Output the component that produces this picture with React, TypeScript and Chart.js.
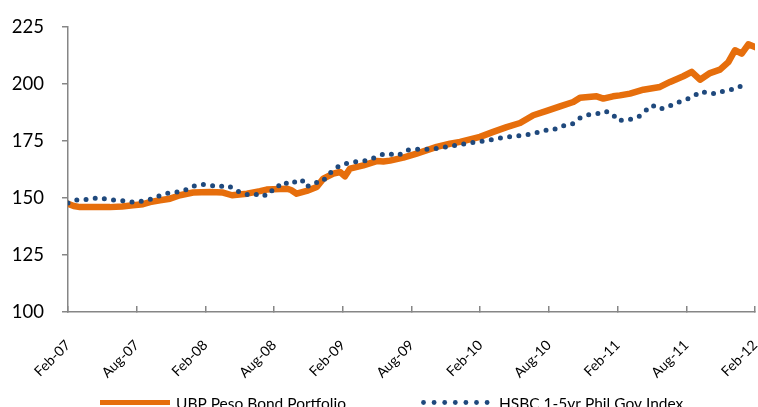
import { useEffect, useRef } from 'react';
import { Chart, registerables } from 'chart.js';

Chart.register(...registerables);

const tickLabels = ['Feb-07', 'Aug-07', 'Feb-08', 'Aug-08', 'Feb-09', 'Aug-09', 'Feb-10', 'Aug-10', 'Feb-11', 'Aug-11', 'Feb-12'];
const seriesNames = ['UBP Peso Bond Portfolio', 'HSBC 1-5yr Phil Gov Index'];

// months since Feb-07
const ubpMonths = [0, 0.5, 1.05, 2.36, 3.67, 4.72, 5.68, 6.55, 7.16, 8.03, 8.91, 9.78, 10.92, 12.4, 13.54, 14.32, 15.63, 16.77, 17.35, 19.1, 19.48, 19.97, 20.85, 21.72, 22.3, 23.17, 23.76, 24.19, 24.63, 25.79, 26.96, 27.54, 28.12, 29.28, 30.45, 32.2, 33.36, 34.24, 35.98, 37.14, 38.31, 39.48, 40.64, 41.81, 42.97, 44.13, 44.72, 46.17, 46.75, 47.6, 48.2, 49.08, 50.25, 51.7, 52.58, 53.74, 54.47, 55.2, 56.07, 56.94, 57.67, 58.25, 58.84, 59.42, 60];
const ubpValues = [147.5, 146.5, 146, 146, 146, 146.3, 146.8, 147.3, 148.2, 149, 149.7, 151.2, 152.4, 152.6, 152.4, 151.2, 151.9, 153, 153.7, 154.1, 153.5, 151.9, 153.1, 154.8, 158.5, 160.7, 161.4, 159.5, 162.9, 164.3, 166.2, 166, 166.4, 167.7, 169.5, 172.4, 173.8, 174.6, 176.8, 179, 181.1, 182.9, 186.3, 188.2, 190.2, 192.1, 194, 194.6, 193.6, 194.6, 195, 195.8, 197.5, 198.7, 200.9, 203.4, 205.3, 201.9, 204.8, 206.3, 209.6, 214.8, 213.3, 217.4, 216.2];

const hsbcMonths = [0, 0.9, 1.77, 2.65, 3.52, 4.25, 5.04, 5.7, 6.58, 7.45, 8.24, 9.06, 10.02, 10.86, 11.68, 12.46, 13.13, 13.86, 14.5, 15.08, 15.66, 16.24, 16.77, 17.35, 17.79, 18.28, 18.72, 19.24, 19.68, 20.41, 20.79, 21.51, 22.16, 22.65, 23.23, 23.84, 24.54, 25.41, 26.23, 26.9, 27.69, 28.32, 28.85, 29.52, 30.37, 31.03, 31.76, 32.55, 33.42, 34.38, 35.26, 36.13, 37.09, 38.02, 38.95, 39.77, 40.64, 41.51, 42.3, 43.14, 43.99, 44.72, 45.5, 46.23, 46.9, 47.62, 47.9, 48.45, 49.14, 49.87, 50.42, 51.03, 51.56, 52.29, 53.07, 53.86, 54.61, 55.34, 56.01, 56.71, 57.23, 58.02, 58.6, 59.42];
const hsbcValues = [147.8, 149.3, 149.3, 150.2, 149.3, 149, 148.7, 148.2, 148.7, 149.7, 151.6, 152.4, 152.9, 155.1, 156, 155.6, 154.8, 155.6, 154.1, 152.2, 151.5, 151.2, 152.2, 150.9, 153.1, 155.6, 154.8, 157.3, 156.8, 158.1, 154.8, 156.8, 156.8, 159.7, 162.6, 164.6, 165.4, 166.1, 166.5, 168, 169.5, 169.2, 168.7, 170.9, 171.4, 171.4, 171.4, 172.1, 172.7, 173.5, 174.3, 174.9, 175.7, 176.5, 177.2, 177.5, 178.2, 179.7, 179.7, 181.6, 182.3, 185.1, 186.6, 187, 188.1, 186.7, 184.1, 184.1, 184.5, 185.8, 188.2, 190.7, 189, 189.6, 191.7, 192.8, 194.6, 196.8, 195.8, 195.8, 196.9, 197.7, 199, 198.4];

const ORANGE = '#E66E0C';
const BLUE = '#1F497D';
const AXIS = '#868686';
const FONT = 'Lato';

const legendPlugin = {
  id: 'bottomLegend',
  afterDraw(chart: any) {
    const ctx = chart.ctx as CanvasRenderingContext2D;
    ctx.save();
    const ly = 402.5;
    ctx.strokeStyle = ORANGE;
    ctx.lineWidth = 5;
    ctx.lineCap = 'butt';
    ctx.beginPath();
    ctx.moveTo(100, ly);
    ctx.lineTo(170, ly);
    ctx.stroke();
    ctx.fillStyle = '#000';
    ctx.font = `15.5px ${FONT}`;
    ctx.textBaseline = 'alphabetic';
    ctx.textAlign = 'left';
    ctx.fillText(seriesNames[0], 176, 408.5);
    ctx.fillStyle = BLUE;
    for (let i = 0; i < 7; i++) {
      ctx.beginPath();
      ctx.arc(423.5 + i * 10.6, ly, 2.4, 0, Math.PI * 2);
      ctx.fill();
    }
    ctx.fillStyle = '#000';
    ctx.fillText(seriesNames[1], 499, 408.5);
    ctx.restore();
  },
};

export default function App() {
  const ref = useRef<HTMLCanvasElement | null>(null);
  useEffect(() => {
    if (!ref.current) return;
    const chart = new Chart(ref.current, {
      type: 'line',
      data: {
        datasets: [
          {
            label: seriesNames[0],
            data: ubpMonths.map((m, i) => ({ x: m, y: ubpValues[i] })),
            borderColor: ORANGE,
            backgroundColor: ORANGE,
            borderWidth: 6.5,
            pointRadius: 0,
            tension: 0,
            borderJoinStyle: 'round',
            borderCapStyle: 'round',
            order: 2,
          },
          {
            label: seriesNames[1],
            data: hsbcMonths.map((m, i) => ({ x: m, y: hsbcValues[i] })),
            borderColor: BLUE,
            backgroundColor: BLUE,
            borderWidth: 5,
            borderDash: [0, 9.3],
            borderCapStyle: 'round',
            pointRadius: 0,
            tension: 0,
            order: 1,
          },
        ],
      },
      options: {
        animation: false,
        responsive: false,
        layout: { padding: { top: 27, right: 3, left: 0, bottom: 0 } },
        plugins: { legend: { display: false }, tooltip: { enabled: false } },
        scales: {
          x: {
            type: 'linear',
            min: 0,
            max: 60,
            afterFit: (s: any) => { s.height = 95; s.paddingLeft = 0; s.paddingRight = 0; },
            ticks: {
              stepSize: 6,
              autoSkip: false,
              maxRotation: 45,
              minRotation: 45,
              color: '#000',
              padding: 31,
              font: { family: FONT, size: 14 },
              callback: (v: any) => tickLabels[Math.round(Number(v) / 6)] ?? '',
            },
            grid: { display: true, drawOnChartArea: false, drawTicks: true, tickLength: -6, color: AXIS, lineWidth: 1.5 },
            border: { display: true, color: AXIS, width: 1.5 },
          },
          y: {
            min: 100,
            max: 225,
            afterFit: (s: any) => { s.width = 68; s.paddingTop = 0; s.paddingBottom = 0; },
            ticks: {
              stepSize: 25,
              color: '#000',
              padding: 18,
              font: { family: FONT, size: 18.5 },
            },
            grid: { display: true, drawOnChartArea: false, drawTicks: true, tickLength: 6, color: AXIS, lineWidth: 1.5 },
            border: { display: true, color: AXIS, width: 1.5 },
          },
        },
      },
      plugins: [legendPlugin],
    } as any);
    return () => chart.destroy();
  }, []);
  return (
    <div style={{ position: 'fixed', left: 0, top: 0, width: 758, height: 407, overflow: 'hidden', background: '#fff' }}>
      <canvas ref={ref} width={758} height={407} style={{ display: 'block', width: 758, height: 407 }} />
    </div>
  );
}
